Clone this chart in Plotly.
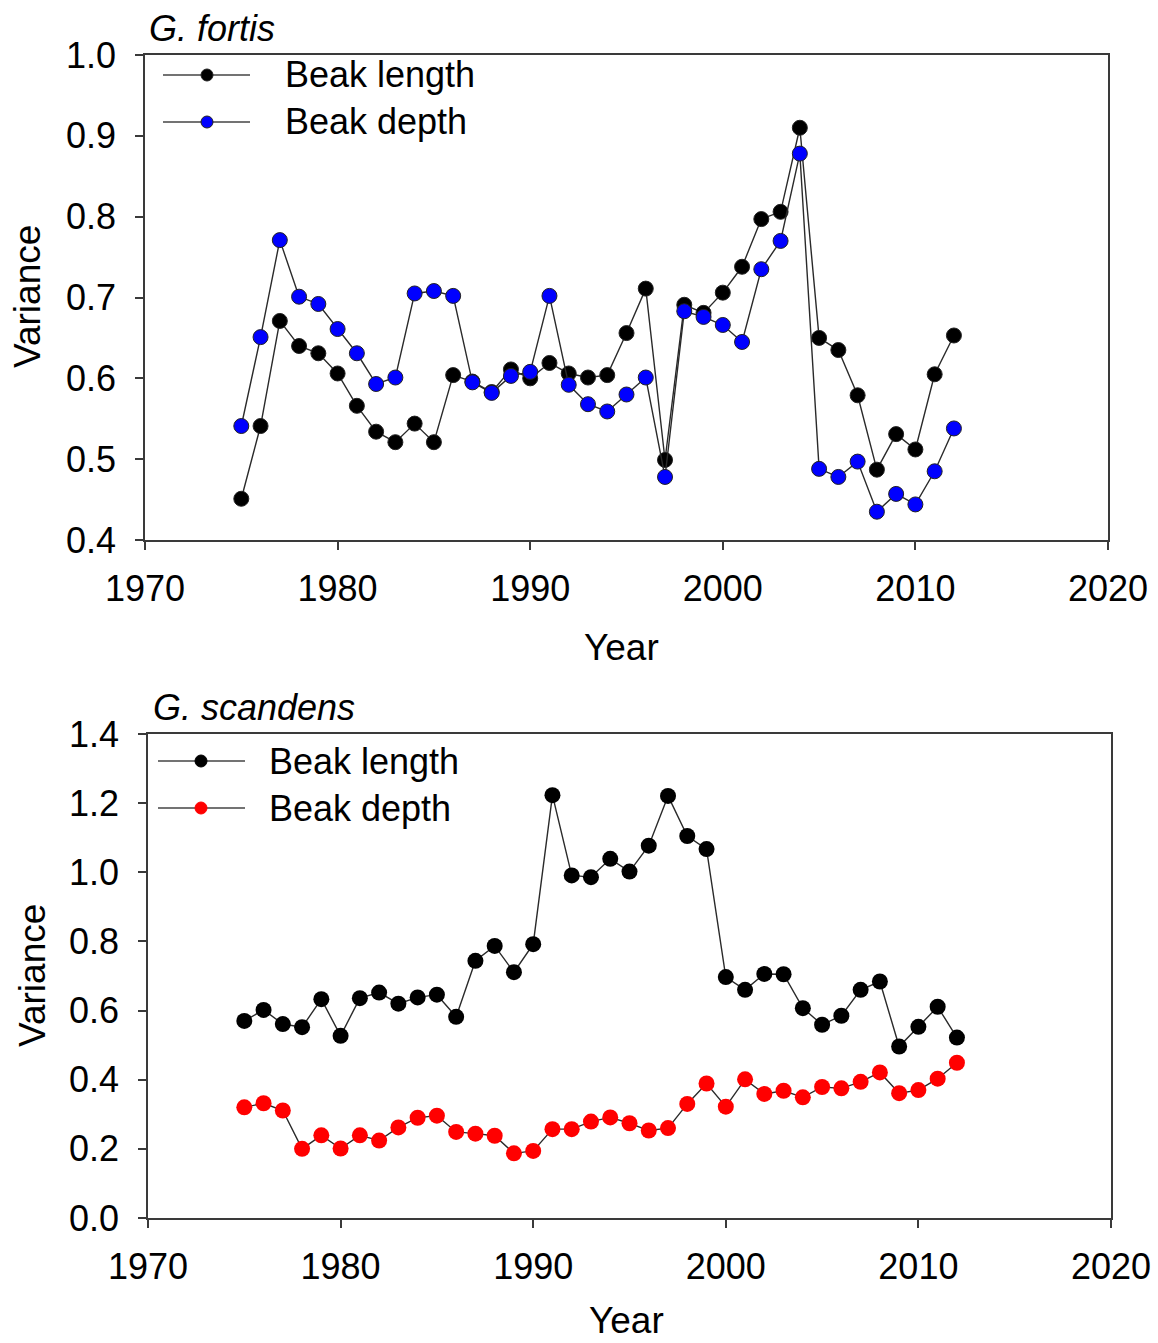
import plotly.graph_objects as go

years = list(range(1975, 2013))

fortis_length = [0.451, 0.541, 0.671, 0.640, 0.631, 0.606, 0.566, 0.534, 0.521, 0.544,
                 0.521, 0.604, 0.596, 0.583, 0.611, 0.600, 0.619, 0.606, 0.601, 0.604,
                 0.656, 0.711, 0.499, 0.691, 0.681, 0.706, 0.738, 0.797, 0.806, 0.910,
                 0.650, 0.635, 0.579, 0.487, 0.531, 0.512, 0.605, 0.653]
fortis_depth = [0.541, 0.651, 0.771, 0.701, 0.692, 0.661, 0.631, 0.593, 0.601, 0.705,
                0.708, 0.702, 0.595, 0.582, 0.603, 0.608, 0.702, 0.592, 0.568, 0.559,
                0.580, 0.601, 0.478, 0.683, 0.676, 0.666, 0.645, 0.735, 0.770, 0.878,
                0.488, 0.478, 0.497, 0.435, 0.457, 0.444, 0.485, 0.538]
scandens_length = [0.570, 0.602, 0.561, 0.552, 0.633, 0.527, 0.636, 0.652, 0.620, 0.638,
                   0.646, 0.582, 0.744, 0.787, 0.711, 0.792, 1.223, 0.991, 0.986, 1.039,
                   1.002, 1.077, 1.221, 1.105, 1.067, 0.697, 0.660, 0.706, 0.705, 0.607,
                   0.559, 0.585, 0.660, 0.684, 0.496, 0.553, 0.611, 0.522]
scandens_depth = [0.320, 0.332, 0.311, 0.200, 0.239, 0.201, 0.239, 0.224, 0.262, 0.290,
                  0.296, 0.249, 0.244, 0.238, 0.187, 0.194, 0.257, 0.257, 0.279, 0.291,
                  0.274, 0.253, 0.260, 0.330, 0.389, 0.322, 0.401, 0.359, 0.368, 0.349,
                  0.379, 0.375, 0.394, 0.421, 0.361, 0.370, 0.403, 0.449]

series_names = ["Beak length", "Beak depth"]
panel_titles = ["G. fortis", "G. scandens"]
x_title = "Year"
y_title = "Variance"
x_ticks = [1970, 1980, 1990, 2000, 2010, 2020]
y_ticks_top = [0.4, 0.5, 0.6, 0.7, 0.8, 0.9, 1.0]
y_ticks_bottom = [0.0, 0.2, 0.4, 0.6, 0.8, 1.0, 1.2, 1.4]

W, H = 1158, 1343
FONT = "Liberation Sans, Arial, sans-serif"
LINE_C = "#2a2a2a"
AX_C = "#3a3a3a"

def px(x):
    return x / W

def py(y):
    return 1 - y / H

fig = go.Figure()

# top panel
fig.add_trace(go.Scatter(x=years, y=fortis_length, mode="lines+markers", name=series_names[0],
                         line=dict(color=LINE_C, width=1.4),
                         marker=dict(color="black", size=15, line=dict(color="#222", width=1)),
                         xaxis="x", yaxis="y", showlegend=False))
fig.add_trace(go.Scatter(x=years, y=fortis_depth, mode="lines+markers", name=series_names[1],
                         line=dict(color=LINE_C, width=1.4),
                         marker=dict(color="#0000ff", size=15, line=dict(color="#222", width=1)),
                         xaxis="x", yaxis="y", showlegend=False))
# bottom panel
fig.add_trace(go.Scatter(x=years, y=scandens_length, mode="lines+markers", name=series_names[0],
                         line=dict(color=LINE_C, width=1.4),
                         marker=dict(color="black", size=16, line=dict(width=0)),
                         xaxis="x2", yaxis="y2", showlegend=False))
fig.add_trace(go.Scatter(x=years, y=scandens_depth, mode="lines+markers", name=series_names[1],
                         line=dict(color=LINE_C, width=1.4),
                         marker=dict(color="#ff0000", size=16, line=dict(width=0)),
                         xaxis="x2", yaxis="y2", showlegend=False))

axis_common = dict(showgrid=False, zeroline=False, showline=True, linecolor=AX_C, linewidth=1.5,
                   mirror=True, ticks="outside", ticklen=8, tickwidth=1.5, tickcolor=AX_C,
                   automargin=False,
                   tickfont=dict(family=FONT, size=36, color="black"))

fig.update_layout(
    width=W, height=H,
    margin=dict(l=0, r=0, t=0, b=0, autoexpand=False),
    paper_bgcolor="white", plot_bgcolor="white",
    font=dict(family=FONT, color="black"),
    xaxis=dict(domain=[px(145), px(1108)], range=[1970, 2020], anchor="y",
               tickvals=x_ticks, ticklabelstandoff=8, **axis_common),
    yaxis=dict(domain=[py(540), py(55)], range=[0.4, 1.0], anchor="x",
               tickvals=y_ticks_top, tickformat=".1f", ticklabelstandoff=12, **axis_common),
    xaxis2=dict(domain=[px(148), px(1111)], range=[1970, 2020], anchor="y2",
                tickvals=x_ticks, ticklabelstandoff=8, **axis_common),
    yaxis2=dict(domain=[py(1218), py(734)], range=[0.0, 1.4], anchor="x2",
                tickvals=y_ticks_bottom, tickformat=".1f", ticklabelstandoff=12, **axis_common),
)

annotations = []
shapes = []

def text(x, y, s, size=36, xanchor="center", angle=0):
    annotations.append(dict(x=px(x), y=py(y), xref="paper", yref="paper", text=s,
                            showarrow=False, xanchor=xanchor, yanchor="middle",
                            textangle=angle, font=dict(family=FONT, size=size, color="black")))

# panel titles
text(147, 28, "<i>%s</i>" % panel_titles[0], size=36, xanchor="left")
text(151, 708, "<i>%s</i>" % panel_titles[1], size=36, xanchor="left")
# axis titles
text(622, 647, x_title, size=37)
text(626, 1320, x_title, size=37)
text(28, 297, y_title, size=37, angle=-90)
text(32, 976, y_title, size=37, angle=-90)

# manual legends
legend_rows = [
    (163, 250, 207, 283, 75, "black", "#222", series_names[0]),
    (163, 250, 207, 283, 122, "#0000ff", "#222", series_names[1]),
    (158, 245, 201, 267, 761, "black", "black", series_names[0]),
    (158, 245, 201, 267, 808, "#ff0000", "#ff0000", series_names[1]),
]
for x0, x1, xm, xt, y, fill, edge, name in legend_rows:
    shapes.append(dict(type="line", xref="paper", yref="paper", x0=px(x0), x1=px(x1),
                       y0=py(y), y1=py(y), line=dict(color="#444", width=1.4)))
    shapes.append(dict(type="circle", xref="paper", yref="paper", xsizemode="pixel",
                       ysizemode="pixel", xanchor=px(xm), yanchor=py(y), x0=-6, x1=6,
                       y0=-6, y1=6, fillcolor=fill, line=dict(color=edge, width=1)))
    text(xt, y, name, size=36, xanchor="left")

fig.update_layout(annotations=annotations, shapes=shapes)

fig.write_html("out.html")
